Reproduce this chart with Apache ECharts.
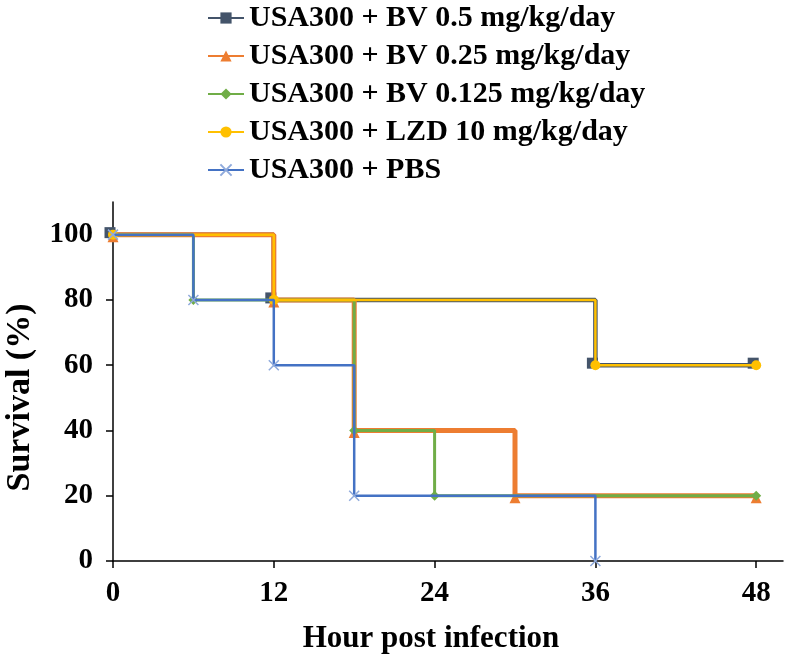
<!DOCTYPE html>
<html>
<head>
<meta charset="utf-8">
<script src="https://cdn.jsdelivr.net/npm/echarts@6/dist/echarts.min.js"></script>
<style>html,body{margin:0;padding:0;background:#fff}#c{width:787px;height:664px}</style>
</head>
<body>
<div id="c"></div>
<script>
const seriesNames = ['USA300 + BV 0.5 mg/kg/day','USA300 + BV 0.25 mg/kg/day','USA300 + BV 0.125 mg/kg/day','USA300 + LZD 10 mg/kg/day','USA300 + PBS'];
const bv05Hours = [0, 12, 36, 48];
const bv05Surv = [100, 80, 60, 60];
const bv025Hours = [0, 12, 18, 30, 48];
const bv025Surv = [100, 80, 40, 20, 20];
const bv0125Hours = [0, 6, 18, 24, 48];
const bv0125Surv = [100, 80, 40, 20, 20];
const lzdHours = [0, 12, 36, 48];
const lzdSurv = [100, 80, 60, 60];
const pbsHours = [0, 6, 12, 18, 36];
const pbsSurv = [100, 80, 60, 20, 0];
const xTicks = [0, 12, 24, 36, 48];
const yTicks = [0, 20, 40, 60, 80, 100];

const pair = (xs, ys) => xs.map((x, i) => [x, ys[i]]);
const font = '"Liberation Serif", "Times New Roman", serif';
const crossPath = 'path://M0,0L10,10M10,0L0,10';

const chart = echarts.init(document.getElementById('c'), null, {renderer: 'canvas'});
chart.setOption({
  animation: false,
  backgroundColor: '#fff',
  textStyle: {fontFamily: font},
  legend: {
    orient: 'vertical', left: 202, top: -2, itemGap: 8, itemWidth: 36, itemHeight: 14,
    textStyle: {fontFamily: font, fontWeight: 'bold', fontSize: 30, color: '#000'},
    data: seriesNames
  },
  grid: {left: 113, right: 4, top: 202, bottom: 103, containLabel: false, outerBoundsMode: 'none'},
  xAxis: {
    type: 'value', min: 0, max: 50,
    name: 'Hour post infection', nameLocation: 'middle', nameGap: 62,
    nameTextStyle: {fontFamily: font, fontWeight: 'bold', fontSize: 31, color: '#000', padding: [0, 34, 0, 0]},
    axisLine: {lineStyle: {color: '#000', width: 1.5}},
    axisTick: {show: true, inside: false, length: 7, lineStyle: {color: '#000', width: 1.5}, customValues: xTicks},
    axisLabel: {fontFamily: font, fontWeight: 'bold', fontSize: 29, color: '#000', margin: 18, customValues: xTicks},
    splitLine: {show: false}
  },
  yAxis: {
    type: 'value', min: 0, max: 110,
    name: 'Survival (%)', nameLocation: 'middle', nameGap: 76, nameRotate: 90,
    nameTextStyle: {fontFamily: font, fontWeight: 'bold', fontSize: 34, color: '#000', padding: [0, 32, 0, 0]},
    axisLine: {show: true, lineStyle: {color: '#000', width: 1.5}},
    axisTick: {show: true, inside: false, length: 7, lineStyle: {color: '#000', width: 1.5}, customValues: yTicks},
    axisLabel: {fontFamily: font, fontWeight: 'bold', fontSize: 29, color: '#000', margin: 20, customValues: yTicks},
    splitLine: {show: false}
  },
  series: [
    {name: seriesNames[0], type: 'line', step: 'end', data: pair(bv05Hours, bv05Surv),
     symbol: 'rect', symbolSize: 11, symbolOffset: [-3, -2], showAllSymbol: true,
     itemStyle: {color: '#44546A'}, lineStyle: {color: '#44546A', width: 4.5}, z: 2},
    {name: seriesNames[1], type: 'line', step: 'end', data: pair(bv025Hours, bv025Surv),
     symbol: 'triangle', symbolSize: 11, symbolOffset: [0, 2],
     itemStyle: {color: '#ED7D31'}, lineStyle: {color: '#ED7D31', width: 5}, z: 3},
    {name: seriesNames[2], type: 'line', step: 'end', data: pair(bv0125Hours, bv0125Surv),
     symbol: 'diamond', symbolSize: 10,
     itemStyle: {color: '#70AD47'}, lineStyle: {color: '#70AD47', width: 3}, z: 4},
    {name: seriesNames[3], type: 'line', step: 'end', data: pair(lzdHours, lzdSurv),
     symbol: 'circle', symbolSize: 10,
     itemStyle: {color: '#FFC000'}, lineStyle: {color: '#FFC000', width: 2.5}, z: 5},
    {name: seriesNames[4], type: 'line', step: 'end', data: pair(pbsHours, pbsSurv),
     symbol: crossPath, symbolSize: 10, symbolKeepAspect: true,
     itemStyle: {color: '#8FAADC', borderColor: '#8FAADC', borderWidth: 1.5}, lineStyle: {color: '#4472C4', width: 2.5}, z: 6}
  ]
});
</script>
</body>
</html>
